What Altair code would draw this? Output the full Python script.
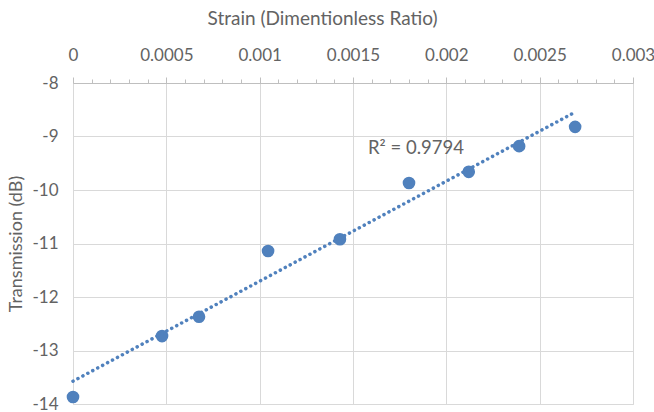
import altair as alt
import pandas as pd

strain = [0.0, 0.000477, 0.000675, 0.001045, 0.00143, 0.0018, 0.00212, 0.00239, 0.00269]
transmission = [-13.87, -12.73, -12.37, -11.14, -10.92, -9.87, -9.66, -9.18, -8.82]
x_ticks = [round(i * 0.0001, 4) for i in range(31)]
y_ticks = [-14, -13, -12, -11, -10, -9, -8]
r2_text = ["R² = 0.9794"]
r2_pos_x = [0.00158]
r2_pos_y = [-9.22]

df = pd.DataFrame({"strain": strain, "trans": transmission})
lab = pd.DataFrame({"x": r2_pos_x, "y": r2_pos_y, "t": r2_text})

FONT = "Lato"
GREY = "#636363"
BLUE = "#5081bd"
major = "round(datum.value*10000) % 5 == 0"

xscale = alt.Scale(domain=[0, 0.003], nice=False)
yscale = alt.Scale(domain=[-14, -8], nice=False)

xaxis = alt.Axis(
    orient="top", values=x_ticks, tickCount=40, title="Strain (Dimentionless Ratio)",
    labelExpr=f"({major}) ? format(datum.value, '~g') : ''",
    gridOpacity={"condition": {"test": major, "value": 1}, "value": 0},
    tickSize={"condition": {"test": major, "value": 6}, "value": 4},
    gridColor="#d9d9d9", domainColor="#bfbfbf", tickColor="#bfbfbf",
    labelFont=FONT, labelFontSize=17, labelColor=GREY, labelPadding=13,
    titleFont=FONT, titleFontSize=19, titleColor=GREY, titleFontWeight="normal",
    titlePadding=18, titleX=249, labelFlush=False, labelOverlap=False,
)
yaxis = alt.Axis(
    values=y_ticks, title="Transmission (dB)",
    labelExpr="replace(format(datum.value, 'd'), '−', '-')",
    gridColor="#d9d9d9", domain=False, ticks=False,
    labelFont=FONT, labelFontSize=17, labelColor=GREY, labelPadding=15,
    titleFont=FONT, titleFontSize=18, titleColor=GREY, titleFontWeight="normal",
    titlePadding=6,
)

base = alt.Chart(df)
points = base.mark_circle(size=160, color=BLUE, opacity=1).encode(
    x=alt.X("strain:Q", scale=xscale, axis=xaxis),
    y=alt.Y("trans:Q", scale=yscale, axis=yaxis),
)
trend = base.transform_regression("strain", "trans").mark_line(
    color=BLUE, strokeWidth=3.5, strokeDash=[0.1, 5.5], strokeCap="round"
).encode(x="strain:Q", y="trans:Q")
text = alt.Chart(lab).mark_text(
    align="left", baseline="middle", font=FONT, fontSize=18.5, color=GREY
).encode(x="x:Q", y="y:Q", text="t:N")

chart = alt.layer(points, trend, text).properties(
    width=560, height=321,
    autosize=alt.AutoSizeParams(type="none"),
    padding={"left": 73, "top": 83, "right": 21, "bottom": 8},
).configure_view(stroke=None).configure(background="white")

chart.save("out.html", embed_options={"renderer": "svg", "actions": False})
